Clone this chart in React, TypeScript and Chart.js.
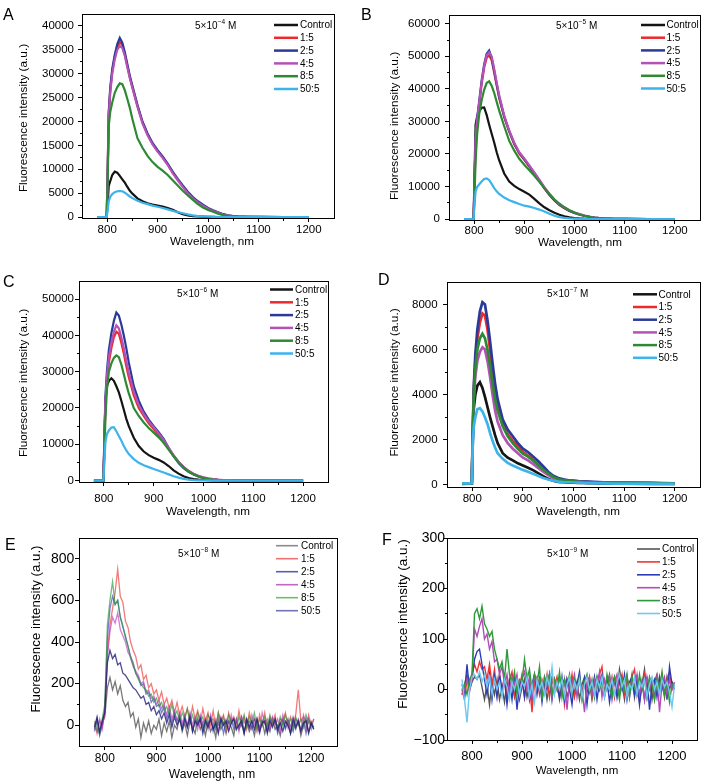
import React, { useEffect, useRef } from 'react';
import { Chart, registerables } from 'chart.js';

Chart.register(...registerables);

const PAGE_W = 703;
const PAGE_H = 784;
const FONT = '"Liberation Sans", Arial, Helvetica, sans-serif';

const SERIES_LABELS = ['Control', '1:5', '2:5', '4:5', '8:5', '50:5'];
const X_TICKS = [800, 900, 1000, 1100, 1200];
const X_MINOR = [850, 950, 1050, 1150];

// wavelength grid (nm) for the smooth spectra A-D
const WL = [780, 795, 799, 801, 803, 806, 810, 815, 820, 825, 830, 835, 840, 845, 850, 860, 870, 880, 890, 900, 910, 920, 930, 940, 950, 960, 970, 980, 990, 1000, 1010, 1020, 1030, 1040, 1050, 1060, 1080, 1100, 1150, 1200];

// wavelength grid (nm) for the noisy spectra E-F
const WL5 = [
  780, 785, 790, 795, 800, 805, 810, 815, 820, 825,
  830, 835, 840, 845, 850, 855, 860, 865, 870, 875,
  880, 885, 890, 895, 900, 905, 910, 915, 920, 925,
  930, 935, 940, 945, 950, 955, 960, 965, 970, 975,
  980, 985, 990, 995, 1000, 1005, 1010, 1015, 1020, 1025,
  1030, 1035, 1040, 1045, 1050, 1055, 1060, 1065, 1070, 1075,
  1080, 1085, 1090, 1095, 1100, 1105, 1110, 1115, 1120, 1125,
  1130, 1135, 1140, 1145, 1150, 1155, 1160, 1165, 1170, 1175,
  1180, 1185, 1190, 1195, 1200, 1205,
];

// ---- Panel A : 5x10^-4 M ----
const A_CONTROL = [0, 0, 0, 3000, 6500, 7500, 8800, 9500, 9300, 8600, 7900, 7200, 6300, 5500, 4900, 3900, 3300, 2900, 2600, 2400, 2200, 1900, 1500, 1000, 600, 350, 200, 120, 70, 40, 20, 10, 0, 0, 0, 0, 0, 0, 0, 0];
const A_R15 = [0, 0, 0, 9800, 21500, 26500, 30500, 33500, 35600, 36600, 36000, 34000, 31600, 29200, 27200, 23300, 19800, 17300, 15300, 13800, 12500, 11000, 9300, 7800, 6400, 5100, 4000, 3150, 2450, 1800, 1300, 950, 560, 330, 190, 110, 45, 15, 0, 0];
const A_R25 = [0, 0, 0, 10000, 22000, 27000, 31000, 34000, 36200, 37500, 36500, 34500, 32000, 29500, 27500, 23500, 20000, 17500, 15500, 14000, 12700, 11200, 9500, 8000, 6600, 5300, 4200, 3300, 2600, 1900, 1400, 1000, 600, 350, 200, 120, 50, 20, 0, 0];
const A_R45 = [0, 0, 0, 9500, 21000, 26000, 30000, 33000, 35000, 35800, 35400, 33700, 31300, 29000, 27000, 23100, 19600, 17100, 15200, 13700, 12400, 10900, 9200, 7700, 6300, 5000, 3900, 3050, 2350, 1750, 1250, 900, 530, 310, 170, 100, 40, 15, 0, 0];
const A_R85 = [0, 0, 0, 8000, 19000, 22000, 24000, 26000, 27200, 28000, 27800, 26500, 24700, 22800, 20500, 16500, 14500, 12800, 11500, 10500, 9700, 8800, 7700, 6600, 5500, 4500, 3600, 2700, 2000, 1500, 1100, 700, 400, 200, 100, 50, 20, 0, 0, 0];
const A_R505 = [0, 0, 0, 1500, 3300, 4200, 4800, 5200, 5400, 5450, 5400, 5100, 4700, 4300, 3950, 3400, 3000, 2700, 2400, 2150, 1900, 1600, 1300, 1050, 800, 550, 350, 200, 120, 70, 30, 10, 0, 0, 0, 0, 0, 0, 0, 0];

// ---- Panel B : 5x10^-5 M ----
const B_CONTROL = [0, 0, 0, 15000, 29000, 31500, 33000, 34200, 34300, 32000, 29000, 26200, 23500, 20500, 18000, 14000, 11500, 10200, 9200, 8400, 7500, 6200, 4800, 3600, 2700, 1900, 1300, 800, 500, 300, 180, 100, 60, 30, 10, 0, 0, 0, 0, 0];
const B_R15 = [0, 0, 0, 11000, 24000, 30000, 35000, 41500, 46500, 49500, 50300, 48800, 45000, 41000, 37200, 31300, 26800, 23000, 20100, 18200, 16100, 13900, 11700, 9400, 7400, 5700, 4300, 3300, 2450, 1850, 1350, 950, 650, 420, 260, 170, 65, 25, 0, 0];
const B_R25 = [0, 0, 0, 12000, 25000, 31000, 36000, 42500, 47500, 50800, 51800, 49500, 45500, 41500, 37500, 31500, 27000, 23200, 20300, 18400, 16300, 14000, 11800, 9500, 7500, 5800, 4400, 3400, 2500, 1900, 1400, 1000, 700, 450, 280, 180, 70, 30, 0, 0];
const B_R45 = [0, 0, 0, 11500, 24500, 30500, 35500, 42000, 47000, 50300, 51200, 50000, 46200, 42000, 38000, 31800, 27200, 23400, 20500, 18600, 16500, 14300, 12100, 9800, 7800, 6000, 4600, 3500, 2600, 2000, 1500, 1050, 720, 470, 290, 190, 75, 30, 0, 0];
const B_R85 = [0, 0, 0, 8000, 18000, 26000, 32000, 36500, 39700, 41800, 42300, 41000, 38800, 36000, 33300, 28500, 24000, 21000, 18500, 16700, 15000, 13300, 11400, 9500, 7700, 6000, 4700, 3600, 2700, 2000, 1400, 1000, 650, 400, 250, 150, 60, 25, 0, 0];
const B_R505 = [0, 0, 0, 5000, 8500, 9800, 10600, 11500, 12300, 12500, 12000, 10800, 9500, 8500, 7700, 6600, 5800, 5200, 4600, 4100, 3800, 3400, 2900, 2300, 1600, 1000, 600, 350, 200, 100, 50, 20, 0, 0, 0, 0, 0, 0, 0, 0];

// ---- Panel C : 5x10^-6 M ----
const C_CONTROL = [0, 0, 0, 10000, 22000, 26000, 27500, 28200, 27500, 26000, 24300, 22000, 19500, 17000, 15000, 11800, 9500, 8000, 7000, 6300, 5700, 5000, 4000, 2800, 1900, 1200, 700, 400, 250, 150, 80, 40, 20, 0, 0, 0, 0, 0, 0, 0];
const C_R15 = [0, 0, 0, 10000, 21000, 27000, 32500, 36500, 39500, 41000, 40500, 38000, 35000, 31500, 28500, 23500, 20000, 17800, 15800, 14200, 12500, 10700, 8700, 6800, 5100, 3700, 2600, 1800, 1200, 800, 500, 300, 180, 110, 60, 40, 15, 0, 0, 0];
const C_R25 = [0, 0, 0, 12000, 23000, 30000, 36000, 40600, 44000, 46300, 45500, 43000, 40000, 36500, 32500, 26000, 22000, 19000, 16800, 15000, 13300, 11500, 9000, 6700, 4800, 3400, 2400, 1700, 1100, 700, 400, 250, 150, 90, 50, 30, 10, 0, 0, 0];
const C_R45 = [0, 0, 0, 11000, 22000, 28500, 34000, 38000, 41000, 42800, 42000, 39500, 36500, 33000, 29700, 24500, 20800, 18300, 16300, 14700, 13000, 11200, 9000, 7000, 5200, 3800, 2700, 1900, 1300, 900, 600, 400, 250, 150, 90, 50, 20, 0, 0, 0];
const C_R85 = [0, 0, 0, 8000, 17000, 25000, 30000, 32300, 33800, 34500, 34000, 32000, 29300, 26500, 24000, 20000, 17800, 16000, 14500, 13200, 11900, 10400, 8500, 6700, 5000, 3600, 2500, 1700, 1100, 700, 400, 250, 150, 80, 50, 30, 10, 0, 0, 0];
const C_R505 = [0, 0, 0, 5000, 10500, 12800, 13800, 14600, 14700, 13600, 12300, 11000, 9500, 8300, 7300, 5900, 4900, 4200, 3700, 3200, 2700, 2200, 1700, 1200, 800, 450, 250, 130, 70, 40, 20, 0, 0, 0, 0, 0, 0, 0, 0, 0];

// ---- Panel D : 5x10^-7 M ----
const D_CONTROL = [40, 50, 60, 2000, 3400, 4000, 4400, 4550, 4300, 3900, 3450, 3000, 2600, 2200, 1850, 1400, 1200, 1080, 950, 850, 750, 650, 520, 380, 260, 180, 130, 110, 100, 90, 80, 80, 70, 70, 60, 60, 50, 50, 40, 40];
const D_R15 = [50, 60, 70, 2400, 4200, 5500, 6500, 7200, 7600, 7500, 6900, 6000, 5000, 4200, 3550, 2700, 2250, 1950, 1700, 1450, 1300, 1100, 900, 700, 500, 350, 260, 210, 180, 160, 140, 130, 120, 110, 100, 100, 90, 80, 70, 50];
const D_R25 = [50, 60, 80, 2500, 4400, 5800, 6900, 7700, 8100, 8000, 7300, 6400, 5400, 4500, 3800, 2900, 2450, 2150, 1850, 1600, 1450, 1250, 1050, 820, 580, 400, 300, 240, 200, 180, 160, 150, 140, 130, 120, 110, 100, 90, 80, 60];
const D_R45 = [50, 60, 70, 2200, 3800, 4800, 5500, 5900, 6100, 6000, 5500, 4800, 4000, 3300, 2800, 2200, 1850, 1600, 1400, 1200, 1080, 920, 750, 580, 430, 300, 220, 180, 150, 140, 130, 120, 110, 100, 100, 90, 90, 80, 70, 50];
const D_R85 = [50, 60, 70, 2300, 4000, 5200, 6000, 6500, 6700, 6500, 6000, 5300, 4500, 3800, 3300, 2600, 2150, 1850, 1600, 1380, 1250, 1080, 880, 680, 500, 350, 250, 200, 170, 150, 130, 120, 110, 100, 100, 90, 90, 80, 70, 50];
const D_R505 = [60, 60, 80, 1800, 2600, 3000, 3350, 3400, 3250, 3000, 2700, 2300, 1950, 1650, 1400, 1150, 970, 850, 750, 660, 580, 490, 400, 300, 230, 180, 140, 120, 110, 100, 90, 80, 70, 70, 60, 60, 50, 50, 50, 40];

// ---- Panel E : 5x10^-8 M ----
const E_CONTROL = [
  -20, 30, -40, 10, 40, 180, 230, 170, 210, 150,
  190, 120, 90, 110, 40, 60, -10, 30, -60, 10,
  -30, 20, -40, 0, -20, 30, -50, 10, -30, 20,
  -60, 0, -20, 40, -30, 10, -50, 20, -10, -40,
  30, -20, 10, -50, 20, -30, 0, -60, 30, -20,
  10, -40, 20, -10, -50, 30, -20, 10, -40, 20,
  -30, 0, -50, 30, -10, 20, -40, 10, -30, 30,
  -20, 0, -50, 20, -10, 30, -40, 10, -20, 20,
  -50, 0, 30, -30, 10, -20,
];
const E_R15 = [
  10, -40, 20, -10, 60, 350, 480, 560, 640, 750,
  620, 590, 500, 470, 400, 360, 330, 270, 290, 220,
  240, 180, 200, 150, 170, 120, 160, 100, 130, 80,
  120, 60, 110, 50, 90, 40, 80, 20, 90, 30,
  70, 10, 80, 20, 60, 0, 70, -10, 60, 20,
  50, -20, 60, 10, 40, -10, 70, 0, 40, -20,
  60, 10, 30, -30, 50, 0, 60, -20, 40, 10,
  50, -30, 30, 20, 60, -10, 40, 0, 50, 170,
  20, 40, -20, 50, 0, 30,
];
const E_R25 = [
  -30, 20, -50, 0, 80, 420, 560, 620, 580, 600,
  520, 470, 430, 380, 330, 300, 250, 230, 190, 200,
  150, 160, 110, 130, 90, 100, 60, 90, 30, 70,
  10, 60, 20, 50, -10, 40, 0, 50, -30, 30,
  10, 40, -20, 30, 0, 40, -30, 20, 0, 30,
  -40, 20, 10, 30, -20, 20, -10, 40, -30, 10,
  20, -20, 30, 0, -40, 20, 10, -30, 30, 0,
  20, -40, 10, 30, -20, 20, 0, -30, 30, 10,
  -20, 20, -40, 30, 0, -10,
];
const E_R45 = [
  0, -30, 30, -20, 70, 330, 450, 520, 490, 540,
  460, 430, 400, 350, 330, 280, 260, 240, 200, 210,
  160, 170, 130, 140, 100, 120, 80, 100, 50, 90,
  30, 70, 20, 60, 10, 50, -10, 60, 0, 40,
  -20, 50, 10, 30, -20, 50, 0, 30, -30, 40,
  10, 30, -20, 50, 0, 30, -30, 40, 10, 30,
  -20, 50, 0, 20, -30, 60, 10, 30, -20, 40,
  0, 30, -30, 50, 10, 20, -20, 40, 0, 30,
  -30, 50, 10, 20, -20, 30,
];
const E_R85 = [
  20, -20, -40, 30, 100, 480, 600, 690, 580, 600,
  520, 480, 420, 380, 320, 290, 250, 220, 200, 180,
  170, 140, 150, 110, 130, 90, 110, 70, 90, 50,
  100, 40, 70, 20, 60, 30, 80, 10, 50, 0,
  60, 20, 40, -10, 50, 20, 30, -20, 60, 0,
  40, -10, 50, 10, 30, -20, 40, 0, 50, -10,
  40, 10, 60, -20, 30, 0, 40, -10, 50, 10,
  30, -20, 40, 0, 50, 10, 30, -20, 40, 0,
  30, -10, 50, 10, 20, -10,
];
const E_R505 = [
  -10, 40, -30, 20, 60, 300, 360, 320, 340, 290,
  300, 250, 240, 220, 200, 180, 170, 150, 130, 140,
  100, 110, 70, 90, 50, 70, 30, 60, 10, 50,
  -10, 40, 0, 30, -20, 30, -10, 40, -30, 20,
  0, 30, -40, 20, -10, 30, -20, 10, -40, 30,
  0, 20, -30, 10, 30, -20, 0, 20, -40, 30,
  -10, 20, -20, 30, -30, 10, 20, -40, 20, -10,
  30, -20, 10, -30, 20, 0, -40, 30, -10, 20,
  -30, 10, 20, -40, 10, -20,
];

// ---- Panel F : 5x10^-9 M ----
const F_CONTROL = [
  -10, 10, 30, 0, 15, 25, 20, 30, 5, -20,
  10, -30, 15, -10, 20, -20, 5, -25, 15, -10,
  20, -15, 10, -20, 5, 20, -15, 10, -25, 15,
  0, 20, -10, 15, -20, 10, 25, -5, 15, -20,
  10, 20, -15, 5, 20, -10, 15, -20, 10, 25,
  -5, 15, -20, 10, 25, 0, 20, -15, 10, 30,
  -5, 20, -10, 40, 10, -20, 25, 0, 30, -15,
  20, -25, 10, 40, -10, 20, -20, 15, 30, -5,
  20, -15, 25, 0, 15, 5,
];
const F_R15 = [
  0, -20, 20, 10, 30, 50, 35, 55, 40, 45,
  20, 50, 10, 40, -10, 30, 0, 25, -15, 20,
  35, -10, 20, 5, 30, -15, 20, 10, -45, 15,
  25, -10, 20, 0, 30, -15, 20, 5, 25, -10,
  15, -30, 20, 0, 30, -15, 10, 25, -10, 20,
  0, 25, -15, 20, 5, 30, 45, -10, 20, 0,
  25, -15, 20, 10, 30, -10, 20, 0, 25, 40,
  -10, 20, 5, 30, -15, 20, 10, -20, 25, 5,
  30, -10, 20, 35, 0, 10,
];
const F_R25 = [
  10, -10, 50, 0, 20, 60, 75, 80, 50, 20,
  -10, 30, -20, 25, -15, 30, 0, 20, -30, 15,
  -20, 25, -40, 10, 20, -15, 25, -20, 10, 30,
  -10, 20, -25, 15, 0, 30, -20, 20, 5, -15,
  25, -20, 20, 0, -30, 20, 10, 35, -15, 20,
  -30, 15, 0, 25, -20, 15, 30, -10, 20, -25,
  10, 25, -15, 20, 0, 30, -20, 15, 25, -10,
  20, -30, 15, -20, 25, -40, 10, 20, -15, 25,
  0, 20, -20, 45, 10, 0,
];
const F_R45 = [
  -10, 0, 20, -5, 20, 120, 105, 125, 140, 100,
  110, 80, 95, 55, 60, 30, 45, 10, 30, -5,
  25, 10, 30, -10, 20, 35, 0, 25, -15, 30,
  10, 20, -10, 25, 5, 30, -15, 20, 0, 25,
  -10, 20, -40, 15, 10, 30, -15, 20, 0, -45,
  15, 25, -10, 20, 5, 35, -15, 20, 0, 25,
  -20, 15, 30, -10, 20, 0, 25, -15, 20, 5,
  30, -10, 15, -20, 25, 0, 20, -15, 30, -45,
  10, 25, -10, 20, 0, 15,
];
const F_R85 = [
  0, 10, -10, 20, 30, 150, 160, 140, 165, 130,
  120, 105, 115, 80, 60, 40, 55, 20, 80, 30,
  10, 35, -10, 20, 15, 60, 20, 40, 0, 30,
  10, 45, -20, 25, 10, 30, -10, 20, 0, 35,
  -15, 20, 5, 30, -10, 20, 0, 25, -20, 15,
  30, -5, 20, -15, 25, 0, 20, -10, 30, 5,
  -15, 25, 10, -20, 20, 0, 30, -15, 25, 5,
  -10, 30, 0, 20, -15, 25, 10, -20, 20, 0,
  35, -10, 15, -25, 10, 5,
];
const F_R505 = [
  20, -20, -65, 0, 25, 30, 20, 35, 15, 30,
  5, 25, -10, 20, 0, 15, -15, 20, 5, -20,
  15, 0, 20, -10, 15, 5, 25, -15, 10, -25,
  20, 0, 15, -10, 25, 5, 45, -10, 15, 0,
  20, -15, 10, 25, -5, 15, 0, 20, -15, 10,
  25, 0, 15, -10, 20, 5, 25, -15, 10, 0,
  20, -10, 15, 30, 5, 20, -15, 10, 0, 25,
  -10, 15, 5, 20, -15, 10, 25, 0, 15, -10,
  20, 5, 15, -5, -35, 10,
];

// ---- Y ticks ----
const A_Y_TICKS = [0, 5000, 10000, 15000, 20000, 25000, 30000, 35000, 40000];
const B_Y_TICKS = [0, 10000, 20000, 30000, 40000, 50000, 60000];
const C_Y_TICKS = [0, 10000, 20000, 30000, 40000, 50000];
const D_Y_TICKS = [0, 2000, 4000, 6000, 8000];
const E_Y_TICKS = [0, 200, 400, 600, 800];
const F_Y_TICKS = [-100, 0, 100, 200, 300];

// ---- colours ----
const SOLID_COLORS = ['#141414', '#ec2a2c', '#2b3a99', '#b453b6', '#2d8a33', '#3db3ec'];
const E_COLORS = ['rgba(30,30,30,0.6)', 'rgba(236,50,50,0.65)', 'rgba(50,60,185,0.65)', 'rgba(185,60,185,0.65)', 'rgba(40,150,50,0.65)', 'rgba(30,30,115,0.8)'];
const E_LEGEND = ['#8a8a8a', '#f07272', '#5c5cb8', '#c266c2', '#6cc06c', '#7474b4'];
const F_COLORS = ['#555555', '#ee3535', '#2c3cb8', '#b04db8', '#2f9a3a', '#6ec8f2'];

type Spec = {
  key: string;
  letter: string; letterX: number; letterY: number;
  plot: { l: number; t: number; r: number; b: number };
  yMin: number; yMax: number; yTicks: number[];
  wl: number[]; series: number[][];
  colors: string[]; legendColors: string[]; lineWidth: number; legendWidth: number;
  legend: { x0: number; x1: number; tx: number; y0: number; dy: number };
  note: { x: number; y: number; exp: string };
  yTitleX: number; yTitleY: number; xTitleX: number; xTitleY: number;
  yTickFont: number; xTickFont: number; xTitleFont: number; yTitleFont: number;
  yPad: number; xPad: number;
};

const PANELS: Spec[] = [
  {
    key: 'A', letter: 'A', letterX: 3, letterY: 20,
    plot: { l: 82, t: 14, r: 334, b: 218 }, yMin: -200, yMax: 42500, yTicks: A_Y_TICKS,
    wl: WL, series: [A_CONTROL, A_R15, A_R25, A_R45, A_R85, A_R505],
    colors: SOLID_COLORS, legendColors: SOLID_COLORS, lineWidth: 2.2, legendWidth: 2.5,
    legend: { x0: 274, x1: 298, tx: 300, y0: 25, dy: 12.8 },
    note: { x: 195, y: 25, exp: '\u22124' },
    yTitleX: 24, yTitleY: 118, xTitleX: 212, xTitleY: 242,
    yTickFont: 11.5, xTickFont: 11.5, xTitleFont: 11.7, yTitleFont: 11.8, yPad: 4, xPad: 0.5,
  },
  {
    key: 'B', letter: 'B', letterX: 361, letterY: 20,
    plot: { l: 449, t: 15, r: 700, b: 220 }, yMin: -300, yMax: 62700, yTicks: B_Y_TICKS,
    wl: WL, series: [B_CONTROL, B_R15, B_R25, B_R45, B_R85, B_R505],
    colors: SOLID_COLORS, legendColors: SOLID_COLORS, lineWidth: 2.2, legendWidth: 2.5,
    legend: { x0: 641, x1: 665, tx: 666.5, y0: 25, dy: 12.7 },
    note: { x: 556, y: 25, exp: '\u22125' },
    yTitleX: 394.5, yTitleY: 126, xTitleX: 580, xTitleY: 243,
    yTickFont: 11.5, xTickFont: 11.5, xTitleFont: 11.7, yTitleFont: 11.8, yPad: 5, xPad: 0,
  },
  {
    key: 'C', letter: 'C', letterX: 3, letterY: 287,
    plot: { l: 79, t: 281, r: 328, b: 482 }, yMin: -400, yMax: 55000, yTicks: C_Y_TICKS,
    wl: WL, series: [C_CONTROL, C_R15, C_R25, C_R45, C_R85, C_R505],
    colors: SOLID_COLORS, legendColors: SOLID_COLORS, lineWidth: 2.2, legendWidth: 2.5,
    legend: { x0: 270, x1: 293, tx: 295, y0: 289.5, dy: 12.8 },
    note: { x: 177, y: 293, exp: '\u22126' },
    yTitleX: 24, yTitleY: 383, xTitleX: 208, xTitleY: 512,
    yTickFont: 11.5, xTickFont: 11.5, xTitleFont: 11.7, yTitleFont: 11.8, yPad: 1, xPad: 6,
  },
  {
    key: 'D', letter: 'D', letterX: 378, letterY: 285,
    plot: { l: 447, t: 282, r: 700, b: 487 }, yMin: -100, yMax: 9000, yTicks: D_Y_TICKS,
    wl: WL, series: [D_CONTROL, D_R15, D_R25, D_R45, D_R85, D_R505],
    colors: SOLID_COLORS, legendColors: SOLID_COLORS, lineWidth: 2.7, legendWidth: 2.5,
    legend: { x0: 633, x1: 657, tx: 658.5, y0: 294.3, dy: 12.7 },
    note: { x: 547, y: 293, exp: '\u22127' },
    yTitleX: 394.5, yTitleY: 382.5, xTitleX: 578, xTitleY: 512,
    yTickFont: 11.5, xTickFont: 11.5, xTitleFont: 11.7, yTitleFont: 11.8, yPad: 5.4, xPad: 0.5,
  },
  {
    key: 'E', letter: 'E', letterX: 5, letterY: 550,
    plot: { l: 79, t: 538, r: 337, b: 746 }, yMin: -100, yMax: 900, yTicks: E_Y_TICKS,
    wl: WL5, series: [E_CONTROL, E_R15, E_R25, E_R45, E_R85, E_R505],
    colors: E_COLORS, legendColors: E_LEGEND, lineWidth: 1.3, legendWidth: 1.6,
    legend: { x0: 276, x1: 298, tx: 301, y0: 545.7, dy: 13 },
    note: { x: 178, y: 553, exp: '\u22128' },
    yTitleX: 36.7, yTitleY: 629, xTitleX: 212, xTitleY: 775,
    yTickFont: 14, xTickFont: 12, xTitleFont: 12, yTitleFont: 13.3, yPad: 0.7, xPad: 1.5,
  },
  {
    key: 'F', letter: 'F', letterX: 382, letterY: 545,
    plot: { l: 447, t: 538, r: 697, b: 740 }, yMin: -100, yMax: 300, yTicks: F_Y_TICKS,
    wl: WL5, series: [F_CONTROL, F_R15, F_R25, F_R45, F_R85, F_R505],
    colors: F_COLORS, legendColors: F_COLORS, lineWidth: 1.4, legendWidth: 1.6,
    legend: { x0: 637, x1: 660, tx: 662, y0: 549, dy: 12.9 },
    note: { x: 547, y: 553.3, exp: '\u22129' },
    yTitleX: 403, yTitleY: 624, xTitleX: 577, xTitleY: 771,
    yTickFont: 14, xTickFont: 13, xTitleFont: 11.5, yTitleFont: 13.5, yPad: -2, xPad: 5,
  },
];

const fmt = (v: any) => String(v).replace('-', '\u2212');
const align = (p: number) => Math.round(p - 0.5) + 0.5;

function overlayPlugin(spec: Spec) {
  return {
    id: 'overlay' + spec.key,
    afterDraw(chart: any) {
      const ctx = chart.ctx as CanvasRenderingContext2D;
      const { left, right, top, bottom } = chart.chartArea;
      const xs = chart.scales.x;
      const ys = chart.scales.y;
      ctx.save();
      // frame
      ctx.strokeStyle = '#000';
      ctx.lineWidth = 1;
      const L = align(left), R = align(right), T = align(top), B = align(bottom);
      ctx.strokeRect(L, T, R - L, B - T);
      // minor ticks
      ctx.beginPath();
      X_MINOR.forEach((v) => {
        const px = align(xs.getPixelForValue(v));
        ctx.moveTo(px, B);
        ctx.lineTo(px, B + 2.5);
      });
      const yt = spec.yTicks;
      const step = yt[1] - yt[0];
      for (let v = yt[0] - step / 2; v < spec.yMax; v += step) {
        if (v <= spec.yMin) continue;
        const py = align(ys.getPixelForValue(v));
        ctx.moveTo(L, py);
        ctx.lineTo(L - 2.5, py);
      }
      ctx.stroke();

      // legend
      ctx.font = `10px ${FONT}`;
      ctx.textAlign = 'left';
      ctx.textBaseline = 'middle';
      SERIES_LABELS.forEach((lab, i) => {
        const y = spec.legend.y0 + i * spec.legend.dy;
        ctx.strokeStyle = spec.legendColors[i];
        ctx.lineWidth = spec.legendWidth;
        ctx.beginPath();
        ctx.moveTo(spec.legend.x0, y);
        ctx.lineTo(spec.legend.x1, y);
        ctx.stroke();
        ctx.fillStyle = '#000';
        ctx.fillText(lab, spec.legend.tx, y + 0.5);
      });

      // concentration note
      ctx.fillStyle = '#000';
      ctx.textBaseline = 'alphabetic';
      const base = spec.note.y + 3.6;
      let nx = spec.note.x;
      ctx.font = `10px ${FONT}`;
      ctx.fillText('5\u00d710', nx, base);
      nx += ctx.measureText('5\u00d710').width + 0.3;
      ctx.font = `6.5px ${FONT}`;
      ctx.fillText(spec.note.exp, nx, base - 4.5);
      nx += ctx.measureText(spec.note.exp).width;
      ctx.font = `10px ${FONT}`;
      ctx.fillText(' M', nx, base);

      // axis titles
      ctx.textAlign = 'center';
      ctx.textBaseline = 'middle';
      ctx.font = `${spec.xTitleFont}px ${FONT}`;
      ctx.fillText('Wavelength, nm', spec.xTitleX, spec.xTitleY);
      ctx.save();
      ctx.translate(spec.yTitleX, spec.yTitleY);
      ctx.rotate(-Math.PI / 2);
      ctx.font = `${spec.yTitleFont}px ${FONT}`;
      ctx.fillText('Fluorescence intensity (a.u.)', 0, 0);
      ctx.restore();

      // panel letter
      ctx.textAlign = 'left';
      ctx.textBaseline = 'alphabetic';
      ctx.font = `16px ${FONT}`;
      ctx.fillText(spec.letter, spec.letterX, spec.letterY);
      ctx.restore();
    },
  };
}

function Panel({ spec }: { spec: Spec }) {
  const ref = useRef<HTMLCanvasElement | null>(null);
  useEffect(() => {
    const canvas = ref.current;
    if (!canvas) return;
    const YW = 70;
    const XH = 30;
    const chart = new Chart(canvas, {
      type: 'line',
      data: {
        datasets: spec.series.map((vals, i) => ({
          label: SERIES_LABELS[i],
          data: spec.wl.map((x, j) => ({ x, y: vals[j] })),
          borderColor: spec.colors[i],
          backgroundColor: spec.colors[i],
          borderWidth: spec.lineWidth,
          pointRadius: 0,
          tension: 0,
          fill: false,
          order: -i,
        })),
      },
      options: {
        animation: false,
        responsive: false,
        maintainAspectRatio: false,
        events: [],
        layout: {
          padding: {
            left: spec.plot.l - YW,
            top: spec.plot.t,
            right: PAGE_W - spec.plot.r,
            bottom: PAGE_H - spec.plot.b - XH,
          },
        },
        plugins: { legend: { display: false }, tooltip: { enabled: false }, title: { display: false } },
        scales: {
          x: {
            type: 'linear',
            min: 750,
            max: 1250,
            afterBuildTicks: (s: any) => { s.ticks = X_TICKS.map((v) => ({ value: v })); },
            afterFit: (s: any) => { s.height = XH; },
            ticks: {
              font: { family: FONT, size: spec.xTickFont },
              color: '#000',
              padding: spec.xPad,
              maxRotation: 0,
              minRotation: 0,
              autoSkip: false,
              callback: (v: any) => fmt(v),
            },
            grid: { display: true, drawOnChartArea: false, drawTicks: true, tickLength: 4, color: '#000', lineWidth: 1 },
            border: { display: false },
          },
          y: {
            type: 'linear',
            min: spec.yMin,
            max: spec.yMax,
            afterBuildTicks: (s: any) => { s.ticks = spec.yTicks.map((v) => ({ value: v })); },
            afterFit: (s: any) => { s.width = YW; },
            ticks: {
              font: { family: FONT, size: spec.yTickFont },
              color: '#000',
              padding: spec.yPad,
              autoSkip: false,
              callback: (v: any) => fmt(v),
            },
            grid: { display: true, drawOnChartArea: false, drawTicks: true, tickLength: 4, color: '#000', lineWidth: 1 },
            border: { display: false },
          },
        },
      } as any,
      plugins: [overlayPlugin(spec)],
    });
    return () => chart.destroy();
  }, [spec]);
  return (
    <canvas
      ref={ref}
      width={PAGE_W}
      height={PAGE_H}
      style={{ position: 'absolute', left: 0, top: 0, width: PAGE_W, height: PAGE_H }}
    />
  );
}

export default function App() {
  return (
    <div
      style={{
        position: 'absolute',
        left: 0,
        top: 0,
        width: PAGE_W,
        height: PAGE_H,
        overflow: 'hidden',
        background: '#fff',
      }}
    >
      {PANELS.map((p) => (
        <Panel key={p.key} spec={p} />
      ))}
    </div>
  );
}
